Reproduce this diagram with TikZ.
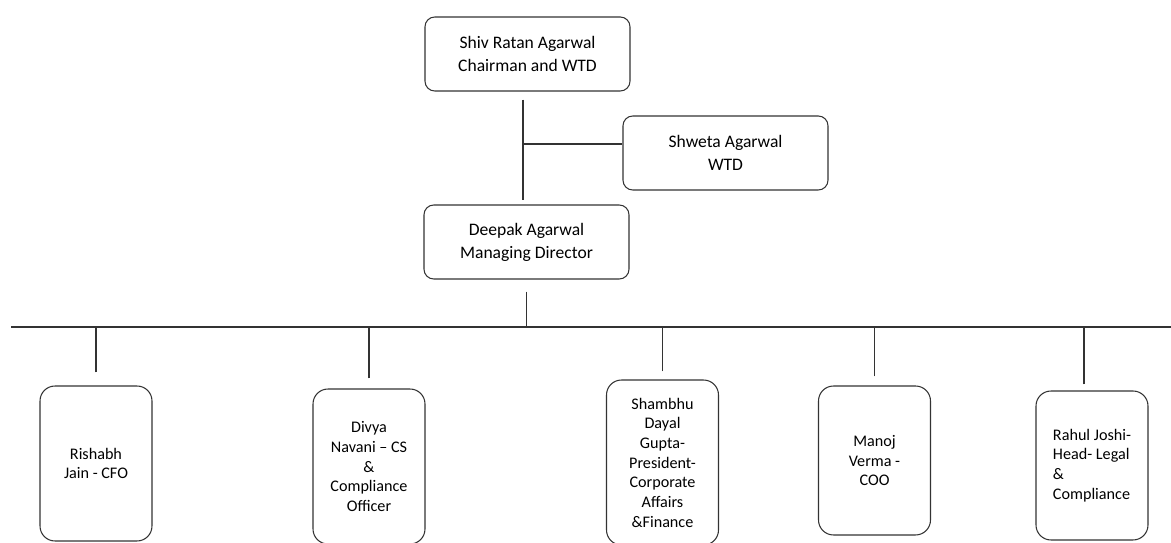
\documentclass[tikz,border=0pt]{standalone}
\usepackage{fontspec}
\setmainfont{Carlito}
\usetikzlibrary{calc}
\tikzset{
	headbox/.style={
			draw=black!80, line width=0.6pt, rounded corners=5.5pt,
			align=center, minimum width=4.1cm, minimum height=1.48cm,
			font=\fontsize{10}{13}\selectfont},
	staffbox/.style={
			draw=black!80, line width=0.6pt, rounded corners=8.5pt,
			align=center, minimum width=2.24cm, minimum height=3.1cm,
			font=\fontsize{9.2}{11.2}\selectfont},
	link/.style={draw=black!80, line width=0.6pt}
}

\begin{document}
\begin{tikzpicture}[x=0.02cm,y=-0.02cm]
		\clip (0,0) rectangle (1171,543);
		%--- Board ---
		\node[headbox] (chair) at (527.5,54) {Shiv Ratan Agarwal\\Chairman and WTD};
		\node[headbox] (wtd) at (725.5,153) {Shweta Agarwal\\WTD};
		\node[headbox] (md) at (526.5,242) {Deepak Agarwal\\Managing Director};
		\coordinate (join) at (523,144);
		\draw[link] ($(chair.south)+(-4.5,8)$) -- ($(md.north)+(-3.5,-4)$);
		\draw[link] (join) -- (join -| wtd.west);

		%--- Common line ---
		\coordinate (busL) at (11,327);
		\coordinate (busR) at (1171,327);
		\draw[link] (busL) -- (busR);
		\draw[link] ([yshift=-0.24cm]md.south) -- (md.south |- busL);

		%--- Key managerial staff ---
		\node[staffbox] (cfo) at (96,463.5) {Rishabh\\Jain - CFO};
		\node[staffbox] (cs) at (369,466.5) {Divya\\Navani -- CS\\\&\\Compliance\\Officer};
		\node[staffbox, minimum height=3.3cm] (pres) at (662.5,462.5)
		{Shambhu\\Dayal\\Gupta-\\President-\\Corporate\\Affairs\\\&Finance};
		\node[staffbox, minimum height=2.98cm] (coo) at (874.5,460.5) {Manoj\\Verma -\\COO};
		\node[staffbox, minimum height=2.98cm, align=left] (legal) at (1092,465.5)
		{Rahul Joshi-\\Head- Legal\\\&\\Compliance};

		% drops from the common line
		\draw[link] ([yshift=0.26cm]cfo.north) -- (cfo.north |- busL);
		\draw[link] ([yshift=0.2cm]cs.north) -- (cs.north |- busL);
		\draw[link] ([yshift=0.16cm]pres.north) -- (pres.north |- busL);
		\draw[link] ([yshift=0.18cm]coo.north) -- (coo.north |- busL);
		\draw[link] ([xshift=-0.16cm,yshift=0.12cm]legal.north) -- ([xshift=-0.16cm]legal.north |- busL);
	\end{tikzpicture}
\end{document}
